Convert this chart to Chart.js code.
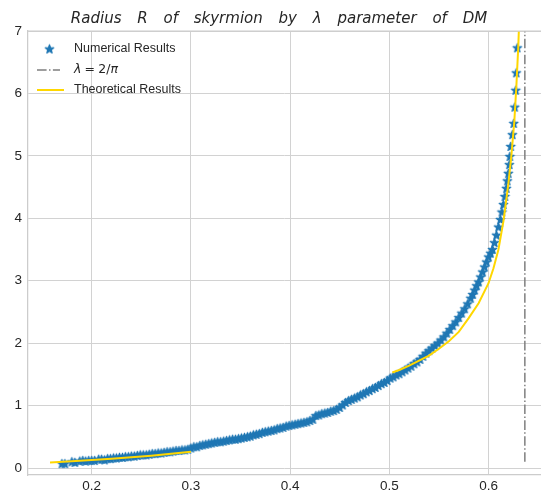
<!DOCTYPE html>
<html>
<head>
<meta charset="utf-8">
<script src="https://cdn.jsdelivr.net/npm/chart.js@4.4.1/dist/chart.umd.min.js"></script>
<style>
  html, body { margin: 0; padding: 0; background: #ffffff; }
  #wrap { width: 541px; height: 497px; position: relative; }
</style>
</head>
<body>
<div id="wrap"><canvas id="chart" width="541" height="497"></canvas></div>
<script>
// Numerical skyrmion radius R versus DM parameter lambda
const lambdaNumerical = [
  0.170, 0.173, 0.180, 0.183, 0.188, 0.191, 0.194, 0.197, 0.200, 0.203,
  0.207, 0.210, 0.213, 0.216, 0.219, 0.222, 0.225, 0.228, 0.231, 0.234,
  0.237, 0.240, 0.243, 0.246, 0.249, 0.252, 0.255, 0.258, 0.261, 0.264,
  0.267, 0.270, 0.273, 0.276, 0.279, 0.282, 0.285, 0.288, 0.291, 0.294,
  0.297, 0.300, 0.303, 0.306, 0.309, 0.312, 0.315, 0.318, 0.321, 0.324,
  0.327, 0.330, 0.333, 0.336, 0.339, 0.342, 0.345, 0.348, 0.351, 0.354,
  0.357, 0.360, 0.363, 0.366, 0.369, 0.372, 0.375, 0.378, 0.381, 0.384,
  0.387, 0.390, 0.393, 0.396, 0.399, 0.402, 0.405, 0.408, 0.411, 0.414,
  0.417, 0.420, 0.423, 0.426, 0.429, 0.432, 0.435, 0.438, 0.441, 0.444,
  0.447, 0.450, 0.453, 0.456, 0.459, 0.462, 0.465, 0.468, 0.471, 0.474,
  0.477, 0.480, 0.483, 0.486, 0.489, 0.492, 0.495, 0.498, 0.501, 0.504,
  0.507, 0.510, 0.513, 0.516, 0.519, 0.522, 0.525, 0.528, 0.531, 0.534,
  0.537, 0.540, 0.543, 0.546, 0.549, 0.552, 0.555, 0.558, 0.561, 0.564,
  0.567, 0.570, 0.573, 0.576, 0.579, 0.582, 0.584, 0.586, 0.588, 0.590,
  0.592, 0.594, 0.596, 0.598, 0.600, 0.602, 0.604, 0.606, 0.608, 0.610,
  0.612, 0.6135, 0.615, 0.6165, 0.618, 0.619, 0.620, 0.621, 0.6215, 0.6224,
  0.624, 0.6254, 0.6264, 0.6274, 0.628, 0.629
];
const radiusNumerical = [
  0.07, 0.07, 0.10, 0.09, 0.11, 0.12, 0.11, 0.12, 0.12, 0.12,
  0.14, 0.14, 0.13, 0.15, 0.15, 0.16, 0.16, 0.17, 0.17, 0.18,
  0.18, 0.19, 0.19, 0.20, 0.21, 0.21, 0.21, 0.22, 0.23, 0.23,
  0.24, 0.24, 0.25, 0.26, 0.26, 0.27, 0.28, 0.28, 0.29, 0.29,
  0.30, 0.32, 0.34, 0.34, 0.36, 0.37, 0.38, 0.39, 0.40, 0.41,
  0.42, 0.42, 0.43, 0.44, 0.45, 0.46, 0.46, 0.47, 0.48, 0.49,
  0.50, 0.51, 0.53, 0.54, 0.55, 0.57, 0.58, 0.59, 0.60, 0.61,
  0.63, 0.64, 0.65, 0.67, 0.68, 0.69, 0.70, 0.71, 0.72, 0.73,
  0.74, 0.76, 0.78, 0.84, 0.85, 0.87, 0.88, 0.89, 0.91, 0.92,
  0.94, 0.97, 1.01, 1.05, 1.08, 1.10, 1.12, 1.14, 1.17, 1.19,
  1.22, 1.24, 1.27, 1.29, 1.32, 1.35, 1.37, 1.40, 1.44, 1.46,
  1.49, 1.51, 1.54, 1.57, 1.60, 1.63, 1.67, 1.70, 1.74, 1.79,
  1.84, 1.88, 1.92, 1.96, 2.00, 2.05, 2.10, 2.16, 2.22, 2.28,
  2.34, 2.41, 2.48, 2.55, 2.63, 2.72, 2.78, 2.85, 2.92, 2.98,
  3.06, 3.14, 3.22, 3.30, 3.38, 3.44, 3.50, 3.61, 3.73, 3.86,
  3.98, 4.10, 4.22, 4.35, 4.48, 4.60, 4.72, 4.86, 4.99, 5.15,
  5.34, 5.52, 5.78, 6.05, 6.33, 6.73
];

// Theoretical curve: small-lambda branch and near-critical branch
const lambdaTheoryLow = [0.158, 0.18, 0.20, 0.22, 0.24, 0.26, 0.28, 0.30];
const radiusTheoryLow = [0.09, 0.108, 0.128, 0.148, 0.172, 0.198, 0.227, 0.26];
const lambdaTheoryHigh = [0.503, 0.51, 0.52, 0.53, 0.54, 0.55, 0.56, 0.57, 0.58, 0.59,
                          0.60, 0.605, 0.61, 0.615, 0.62, 0.623, 0.626, 0.628, 0.630, 0.631, 0.632];
const radiusTheoryHigh = [1.53, 1.57, 1.64, 1.72, 1.80, 1.91, 2.03, 2.18, 2.40, 2.64,
                          2.96, 3.20, 3.50, 3.95, 4.55, 5.00, 5.55, 6.10, 6.75, 7.20, 7.75];

// Critical value lambda = 2/pi and the vertical span of its marker line
const lambdaCritical = 2 / Math.PI;
const criticalSpan = [0.1, 8];

// Axis ticks
const xTicks = [0.2, 0.3, 0.4, 0.5, 0.6];
const yTicks = [0, 1, 2, 3, 4, 5, 6, 7];

const titleWords = ['Radius', 'R', 'of', 'skyrmion', 'by', 'λ', 'parameter', 'of', 'DM'];
const legendLabels = ['Numerical Results', 'λ = 2/π', 'Theoretical Results'];

const BLUE = '#1f77b4';
const GOLD = '#ffd700';
const GREY = '#7f7f7f';
const TEXT = '#262626';
const GRID = '#d2d2d2';
const DASHDOT = [9.6, 2.4, 1.5, 2.4];

function makeStar(r, color) {
  const size = Math.ceil(2 * r + 3);
  const c = document.createElement('canvas');
  c.width = size; c.height = size;
  const g = c.getContext('2d');
  const cx = size / 2, cy = size / 2 + 0.3;
  g.beginPath();
  for (let i = 0; i < 10; i++) {
    const rad = i % 2 === 0 ? r : r * 0.42;
    const a = -Math.PI / 2 + i * Math.PI / 5;
    const px = cx + rad * Math.cos(a), py = cy + rad * Math.sin(a);
    if (i === 0) g.moveTo(px, py); else g.lineTo(px, py);
  }
  g.closePath();
  g.fillStyle = color;
  g.fill();
  g.lineWidth = 1.1;
  g.strokeStyle = color;
  g.lineJoin = 'round';
  g.stroke();
  return c;
}
const starImg = makeStar(4.6, BLUE);

const numericalPoints = lambdaNumerical.map((x, i) => ({ x, y: radiusNumerical[i] }));
const theoryPoints = lambdaTheoryLow.map((x, i) => ({ x, y: radiusTheoryLow[i] }))
  .concat([{ x: 0.4, y: null }])
  .concat(lambdaTheoryHigh.map((x, i) => ({ x, y: radiusTheoryHigh[i] })));
const criticalPoints = criticalSpan.map(y => ({ x: lambdaCritical, y }));

const frameAndTitle = {
  id: 'frameAndTitle',
  afterDraw(chart) {
    const { ctx, chartArea } = chart;
    ctx.save();
    // top spine
    ctx.strokeStyle = '#cccccc';
    ctx.lineWidth = 1.25;
    ctx.beginPath();
    ctx.moveTo(chartArea.left, chartArea.top);
    ctx.lineTo(chartArea.right, chartArea.top);
    ctx.stroke();

    // title
    ctx.font = 'italic 15px "DejaVu Sans"';
    ctx.fillStyle = TEXT;
    ctx.textBaseline = 'alphabetic';
    const gap = 15.8;
    const widths = titleWords.map(w => ctx.measureText(w).width);
    const total = widths.reduce((a, b) => a + b, 0) + gap * (titleWords.length - 1);
    let x = 279 - total / 2;
    titleWords.forEach((w, i) => {
      ctx.fillText(w, x, 23);
      x += widths[i] + gap;
    });

    // legend
    const rows = [49, 70, 90];
    const hx0 = 37, hx1 = 63, tx = 74;
    ctx.drawImage(starImg, (hx0 + hx1) / 2 - starImg.width / 2 - 0.5, rows[0] - starImg.height / 2);
    ctx.strokeStyle = GREY;
    ctx.lineWidth = 1.5;
    ctx.setLineDash(DASHDOT);
    ctx.beginPath();
    ctx.moveTo(hx0, rows[1]); ctx.lineTo(hx1 - 3, rows[1]);
    ctx.stroke();
    ctx.setLineDash([]);
    ctx.strokeStyle = GOLD;
    ctx.lineWidth = 2;
    ctx.beginPath();
    ctx.moveTo(hx0, rows[2]); ctx.lineTo(hx1 + 1, rows[2]);
    ctx.stroke();

    ctx.textBaseline = 'middle';
    ctx.fillStyle = TEXT;
    ctx.font = '12.5px "Liberation Sans", Arial, sans-serif';
    ctx.fillText(legendLabels[0], tx, rows[0]);
    ctx.fillText(legendLabels[2], tx, rows[2]);
    // math label: italic lambda and pi
    let lx = tx;
    ctx.font = 'italic 12.5px "DejaVu Sans"';
    ctx.fillText('λ', lx, rows[1]);
    lx += ctx.measureText('λ').width + 3.2;
    ctx.font = '12.5px "DejaVu Sans"';
    ctx.fillText('=', lx, rows[1]);
    lx += ctx.measureText('=').width + 3.2;
    ctx.fillText('2/', lx, rows[1]);
    lx += ctx.measureText('2/').width;
    ctx.font = 'italic 12.5px "DejaVu Sans"';
    ctx.fillText('π', lx, rows[1]);
    ctx.restore();
  }
};

new Chart(document.getElementById('chart'), {
  data: {
    datasets: [
      {
        type: 'scatter',
        label: legendLabels[0],
        data: numericalPoints,
        pointStyle: starImg,
        pointRadius: 5,
        pointHoverRadius: 5,
        order: 2
      },
      {
        type: 'line',
        label: legendLabels[1],
        data: criticalPoints,
        borderColor: GREY,
        borderWidth: 1.5,
        borderDash: DASHDOT,
        pointRadius: 0,
        fill: false,
        order: 3
      },
      {
        type: 'line',
        label: legendLabels[2],
        data: theoryPoints,
        borderColor: GOLD,
        borderWidth: 2,
        pointRadius: 0,
        spanGaps: false,
        tension: 0,
        fill: false,
        clip: 0,
        order: 1
      }
    ]
  },
  options: {
    responsive: false,
    animation: false,
    events: [],
    layout: { autoPadding: false, padding: { top: 31, right: 0, left: 0, bottom: 0 } },
    plugins: {
      legend: { display: false },
      title: { display: false },
      tooltip: { enabled: false }
    },
    scales: {
      x: {
        type: 'linear',
        min: 0.1358,
        max: 0.6529,
        afterBuildTicks: s => { s.ticks = xTicks.map(v => ({ value: v })); },
        afterFit: s => { s.height = 22; s.paddingLeft = 0; s.paddingRight = 0; },
        ticks: {
          color: TEXT,
          font: { family: '"Liberation Sans", Arial, sans-serif', size: 13.5 },
          padding: 3,
          maxRotation: 0,
          callback: v => v.toFixed(1)
        },
        grid: { color: GRID, lineWidth: 1, drawTicks: false },
        border: { display: true, color: '#cccccc', width: 1.25 }
      },
      y: {
        type: 'linear',
        min: -0.112,
        max: 7,
        afterBuildTicks: s => { s.ticks = yTicks.map(v => ({ value: v })); },
        afterFit: s => { s.width = 28; s.paddingTop = 0; s.paddingBottom = 0; },
        ticks: {
          color: TEXT,
          font: { family: '"Liberation Sans", Arial, sans-serif', size: 13.5 },
          padding: 6,
          callback: v => String(v)
        },
        grid: { color: GRID, lineWidth: 1, drawTicks: false },
        border: { display: true, color: '#cccccc', width: 1.25 }
      }
    }
  },
  plugins: [frameAndTitle]
});
</script>
</body>
</html>
